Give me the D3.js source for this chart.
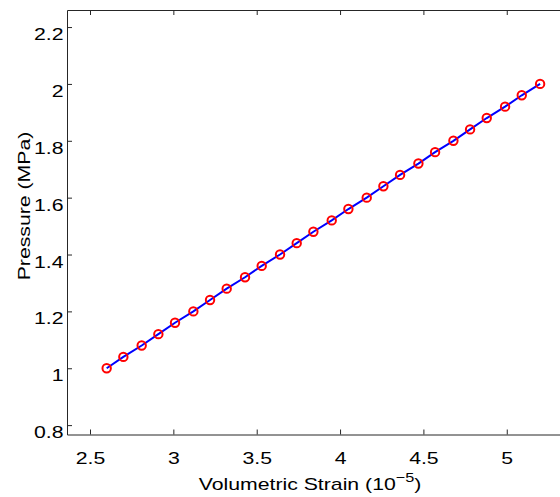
<!DOCTYPE html>
<html>
<head>
<meta charset="utf-8">
<script src="https://cdn.jsdelivr.net/npm/d3@7"></script>
<style>
  body { margin: 0; background: #fff; }
  svg text { font-family: "Liberation Sans", Arial, Helvetica, sans-serif; }
</style>
</head>
<body>
<div id="chart"></div>
<script>
// Volumetric strain (1e-5) vs pressure (MPa)
const strain = [2.60, 2.70, 2.81, 2.91, 3.01, 3.12, 3.22, 3.32, 3.43, 3.53,
                3.64, 3.74, 3.84, 3.95, 4.05, 4.16, 4.26, 4.36, 4.47, 4.57,
                4.68, 4.78, 4.88, 4.99, 5.09, 5.20];
const pressure = [1.00, 1.04, 1.08, 1.12, 1.16, 1.20, 1.24, 1.28, 1.32, 1.36,
                  1.40, 1.44, 1.48, 1.52, 1.56, 1.60, 1.64, 1.68, 1.72, 1.76,
                  1.80, 1.84, 1.88, 1.92, 1.96, 2.00];
const xTicks = [2.5, 3, 3.5, 4, 4.5, 5];
const yTicks = [0.8, 1, 1.2, 1.4, 1.6, 1.8, 2, 2.2];

const width = 560, height = 497;
const plotLeft = 67, plotTop = 10, plotBottom = 434.5;
const SX = 1.25; // text in the original is rendered wide

const svg = d3.select('#chart')
    .append('svg')
    .attr('width', width)
    .attr('height', height);

const x = d3.scaleLinear().domain([2.362, 5.45]).range([plotLeft, plotLeft + 3.088 * 166.7]);
const y = d3.scaleLinear().domain([0.767, 2.26]).range([plotBottom, plotTop]);

const data = strain.map((s, i) => ({ s, p: pressure[i] }));

const axisColor = '#262626';

// bottom axis, ticks inward
const xAxis = svg.append('g')
    .attr('transform', `translate(0,${plotBottom})`)
    .call(d3.axisBottom(x).tickValues(xTicks).tickSizeInner(-5).tickSizeOuter(0)
        .tickPadding(17).tickFormat(d3.format('')));
// top mirror ticks
const xTop = svg.append('g')
    .attr('transform', `translate(0,${plotTop})`)
    .call(d3.axisTop(x).tickValues(xTicks).tickSizeInner(-5).tickSizeOuter(0).tickFormat(''));
const yAxis = svg.append('g')
    .attr('transform', `translate(${plotLeft},0)`)
    .call(d3.axisLeft(y).tickValues(yTicks).tickSizeInner(-5).tickSizeOuter(0)
        .tickFormat(d3.format('')));

[xAxis, xTop, yAxis].forEach(g => {
    g.select('.domain').style('stroke', axisColor).style('stroke-width', 1);
    g.selectAll('.tick line').style('stroke', axisColor);
    g.selectAll('.tick text').style('font-size', '17px').style('fill', '#000')
        .attr('transform', `scale(${SX},1)`);
});

// y labels sit just below their tick, right edge at 63.5
yAxis.selectAll('.tick text')
    .attr('x', -3.5 / SX)
    .attr('y', 12.5)
    .attr('dy', null);

// line
svg.append('path')
    .datum(data)
    .attr('d', d3.line().x(d => x(d.s)).y(d => y(d.p)))
    .style('fill', 'none')
    .style('stroke', '#0000ff')
    .style('stroke-width', 2);

// markers
svg.append('g')
    .selectAll('circle')
    .data(data)
    .join('circle')
    .attr('cx', d => x(d.s))
    .attr('cy', d => y(d.p))
    .attr('r', 4.2)
    .style('fill', 'none')
    .style('stroke', '#ff0000')
    .style('stroke-width', 2);

// axis labels
const xl = svg.append('text')
    .attr('transform', `translate(310,490) scale(${SX},1)`)
    .attr('text-anchor', 'middle')
    .style('font-size', '17px');
xl.append('tspan').text('Volumetric Strain (10');
xl.append('tspan').attr('dy', -8).style('font-size', '13px').text('\u22125');
xl.append('tspan').attr('dy', 8).text(')');

svg.append('text')
    .attr('transform', `translate(29.5,206) rotate(-90) scale(${SX},1)`)
    .attr('text-anchor', 'middle')
    .style('font-size', '17px')
    .text('Pressure (MPa)');
</script>
</body>
</html>
